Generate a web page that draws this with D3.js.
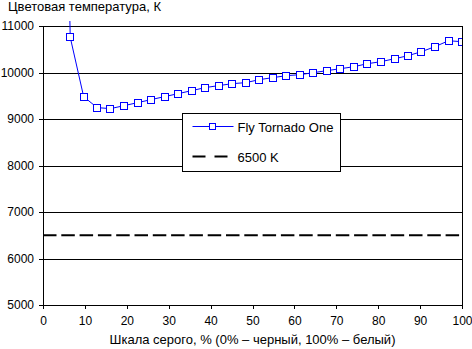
<!DOCTYPE html>
<html>
<head>
<meta charset="utf-8">
<script src="https://cdn.jsdelivr.net/npm/d3@7"></script>
<style>
  body { margin: 0; background: #fff; }
  text { font-family: "Liberation Sans", Arial, sans-serif; font-size: 13px; fill: #000; }
  .axis text { font-size: 12px; }
</style>
</head>
<body>
<div id="graphic"></div>
<script>
// grey level, % (0% black, 100% white)
const grey = [3.2, 6.5, 9.7, 12.9, 16.1, 19.4, 22.6, 25.8, 29.0, 32.3, 35.5,
  38.7, 41.9, 45.2, 48.4, 51.6, 54.8, 58.1, 61.3, 64.5, 67.7, 71.0, 74.2,
  77.4, 80.6, 83.9, 87.1, 90.3, 93.5, 96.8, 100];
// colour temperature, K
const tempK = [25000, 10757, 9481, 9245, 9223, 9288, 9352, 9417, 9481, 9546, 9610,
  9675, 9718, 9760, 9782, 9846, 9889, 9932, 9953, 9996, 10039, 10082, 10125,
  10189, 10232, 10296, 10361, 10447, 10554, 10683, 10662];
const reference = 6500;
const xTicks = [0, 10, 20, 30, 40, 50, 60, 70, 80, 90, 100];
const yTicks = [5000, 6000, 7000, 8000, 9000, 10000, 11000];
const seriesName = "Fly Tornado One";
const refName = "6500 K";

const W = 472, H = 349;
const margin = { left: 43, right: 10, top: 26, bottom: 44 };

const svg = d3.select("#graphic").append("svg")
  .attr("width", W).attr("height", H);

const x = d3.scaleLinear().domain([0, 100]).range([margin.left, W - margin.right]);
const y = d3.scaleLinear().domain([5000, 11000]).range([H - margin.bottom, margin.top]);

// clip the series a little above the top of the plot
svg.append("clipPath").attr("id", "clip")
  .append("rect")
  .attr("x", margin.left).attr("y", margin.top - 5)
  .attr("width", x(100) - margin.left).attr("height", y(5000) - margin.top + 5);

// horizontal grid
svg.append("g")
  .attr("transform", `translate(${margin.left},0)`)
  .call(d3.axisLeft(y).tickValues(yTicks).tickSize(-(x(100) - x(0))).tickFormat(""))
  .call(g => g.select(".domain").remove())
  .selectAll("line").attr("stroke", "#000").attr("shape-rendering", "crispEdges");

// right border of plot
svg.append("line")
  .attr("x1", x(100)).attr("x2", x(100))
  .attr("y1", y(11000)).attr("y2", y(5000))
  .attr("stroke", "#000").attr("shape-rendering", "crispEdges");

// axes
const yAxis = svg.append("g")
  .attr("class", "axis")
  .attr("transform", `translate(${margin.left},0)`)
  .call(d3.axisLeft(y).tickValues(yTicks).tickFormat(d3.format("d"))
    .tickSize(4).tickPadding(5).tickSizeOuter(0));
const xAxis = svg.append("g")
  .attr("class", "axis")
  .attr("transform", `translate(0,${y(5000)})`)
  .call(d3.axisBottom(x).tickValues(xTicks).tickSize(4).tickPadding(7).tickSizeOuter(0));
[yAxis, xAxis].forEach(a => {
  a.attr("font-family", null).attr("font-size", null);
  a.selectAll("path,line").attr("stroke", "#000").attr("shape-rendering", "crispEdges");
});

// 6500 K reference line
svg.append("line")
  .attr("x1", x(0)).attr("x2", x(100))
  .attr("y1", y(reference)).attr("y2", y(reference))
  .attr("stroke", "#000").attr("stroke-width", 2)
  .attr("stroke-dasharray", "13.5,4.8");

// series
const pts = grey.map((g, i) => [g, tempK[i]]);
const series = svg.append("g").attr("clip-path", "url(#clip)");
series.append("path")
  .datum(pts)
  .attr("fill", "none").attr("stroke", "#0000ff").attr("stroke-width", 1)
  .attr("d", d3.line().x(d => x(d[0])).y(d => y(d[1])));
series.selectAll("rect")
  .data(pts.filter(d => d[1] <= 11000))
  .enter().append("rect")
  .attr("x", d => Math.round(x(d[0])) - 3.5)
  .attr("y", d => Math.round(y(d[1])) - 3.5)
  .attr("width", 7).attr("height", 7)
  .attr("fill", "#fff").attr("stroke", "#0000ff").attr("stroke-width", 1);

// legend
const lg = svg.append("g").attr("transform", "translate(182.5,113.5)");
lg.append("rect").attr("width", 158).attr("height", 58)
  .attr("fill", "#fff").attr("stroke", "#000");
lg.append("line").attr("x1", 10).attr("x2", 51).attr("y1", 13).attr("y2", 13)
  .attr("stroke", "#0000ff");
lg.append("rect").attr("x", 27).attr("y", 10).attr("width", 6).attr("height", 6)
  .attr("fill", "#fff").attr("stroke", "#0000ff");
lg.append("text").attr("x", 55).attr("y", 18).text(seriesName);
lg.append("line").attr("x1", 10).attr("x2", 45).attr("y1", 43).attr("y2", 43)
  .attr("stroke", "#000").attr("stroke-width", 2).attr("stroke-dasharray", "13,9");
lg.append("text").attr("x", 55).attr("y", 48).text(refName);

// titles
svg.append("text").attr("x", 8).attr("y", 11).text("Цветовая температура, К");
svg.append("text").attr("x", (x(0) + x(100)) / 2).attr("y", 344)
  .attr("text-anchor", "middle")
  .text("Шкала серого, % (0% – черный, 100% – белый)");
</script>
</body>
</html>
